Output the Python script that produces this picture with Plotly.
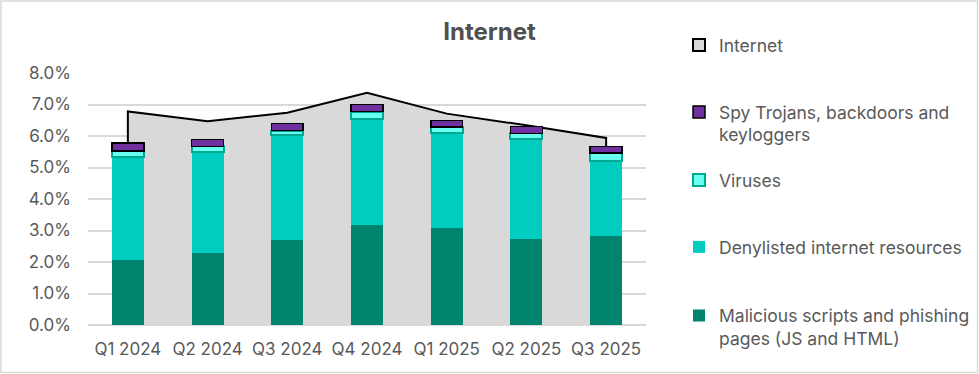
import plotly.graph_objects as go

categories = ["Q1 2024", "Q2 2024", "Q3 2024", "Q4 2024", "Q1 2025", "Q2 2025", "Q3 2025"]
malicious = [2.06, 2.28, 2.70, 3.17, 3.08, 2.73, 2.83]
denylisted = [3.26, 3.20, 3.32, 3.37, 3.03, 3.16, 2.39]
viruses = [0.20, 0.19, 0.15, 0.23, 0.18, 0.19, 0.24]
spy = [0.25, 0.22, 0.23, 0.23, 0.20, 0.22, 0.20]
internet = [6.78, 6.47, 6.74, 7.37, 6.71, 6.34, 5.94]
y_ticks = [0, 1, 2, 3, 4, 5, 6, 7, 8]

W, H = 979, 374
L, R, T, B = 88, 646, 73, 325  # plot area in pixels
pw, ph = R - L, B - T

def px(x):
    return (x - L) / pw

def py(y):
    return (B - y) / ph

FONT = "Inter"
GREY = "#595959"

fig = go.Figure()

# Area (Internet), drawn behind bars, with vertical end edges
fig.add_trace(go.Scatter(
    x=[categories[0]] + categories + [categories[-1]],
    y=[0] + internet + [0],
    mode="lines", fill="tozeroy", fillcolor="#D9D9D9",
    line=dict(color="#000000", width=2),
    name="Internet", showlegend=False, zorder=-1,
    hoverinfo="skip",
))
# legend entry for the area (box style)
fig.add_trace(go.Bar(x=[None], y=[None], name="Internet",
                     marker=dict(color="#D9D9D9", line=dict(color="#000000", width=2)),
                     legend="legend", hoverinfo="skip"))

fig.add_trace(go.Bar(x=categories, y=malicious, name="Malicious scripts and phishing<br>pages (JS and HTML)",
                     marker=dict(color="#00846E", line=dict(width=0)), legend="legend5"))
fig.add_trace(go.Bar(x=categories, y=denylisted, name="Denylisted internet resources",
                     marker=dict(color="#00CCBF", line=dict(width=0)), legend="legend4"))
fig.add_trace(go.Bar(x=categories, y=viruses, name="Viruses",
                     marker=dict(color="#66FFF0", line=dict(color="#00A894", width=2)), legend="legend3"))
fig.add_trace(go.Bar(x=categories, y=spy, name="Spy Trojans, backdoors and<br>keyloggers",
                     marker=dict(color="#7030A0", line=dict(color="#000000", width=1.5)), legend="legend2"))

leg_common = dict(xanchor="left", yanchor="middle", valign="top",
                  font=dict(family=FONT, size=17.5, color=GREY), bgcolor="rgba(0,0,0,0)",
                  itemclick=False, itemdoubleclick=False)
lx = px(679)
legend_centers = {"legend": 45, "legend2": 123.5, "legend3": 180, "legend4": 247, "legend5": 327}

layout_legends = {k: dict(x=lx, y=py(v), **leg_common) for k, v in legend_centers.items()}

fig.update_layout(
    width=W, height=H,
    margin=dict(l=L, r=W - R, t=T, b=H - B, pad=0, autoexpand=False),
    paper_bgcolor="white", plot_bgcolor="white",
    barmode="stack", bargap=0.6,
    title=dict(text="<b>Internet</b>", x=0.5, xref="container", xanchor="center",
               y=1 - 32 / H, yref="container", yanchor="middle",
               font=dict(family=FONT, size=24, color="#505050")),
    font=dict(family=FONT, size=17, color=GREY),
    xaxis=dict(type="category", showgrid=False, zeroline=False, showline=False,
               ticks="", tickfont=dict(family=FONT, size=17, color=GREY), ticklabelstandoff=12),
    yaxis=dict(range=[0, 8], tickvals=y_ticks, ticktext=[f"{v:.1f}%" for v in y_ticks],
               showgrid=True, gridcolor="#D9D9D9", gridwidth=1.5,
               zeroline=True, zerolinecolor="#D9D9D9", zerolinewidth=1.5,
               showline=False, ticks="", ticklabelstandoff=16,
               tickfont=dict(family=FONT, size=17, color=GREY)),
    showlegend=True,
    shapes=[dict(type="rect", xref="paper", yref="paper",
                 x0=px(1), x1=px(977.5), y0=py(372.5), y1=py(1),
                 line=dict(color="#D9D9D9", width=1.5), fillcolor="rgba(0,0,0,0)", layer="below")],
    **layout_legends,
)

fig.write_html("out.html", config={"displayModeBar": False},
               post_script="document.body.style.margin='0';")
